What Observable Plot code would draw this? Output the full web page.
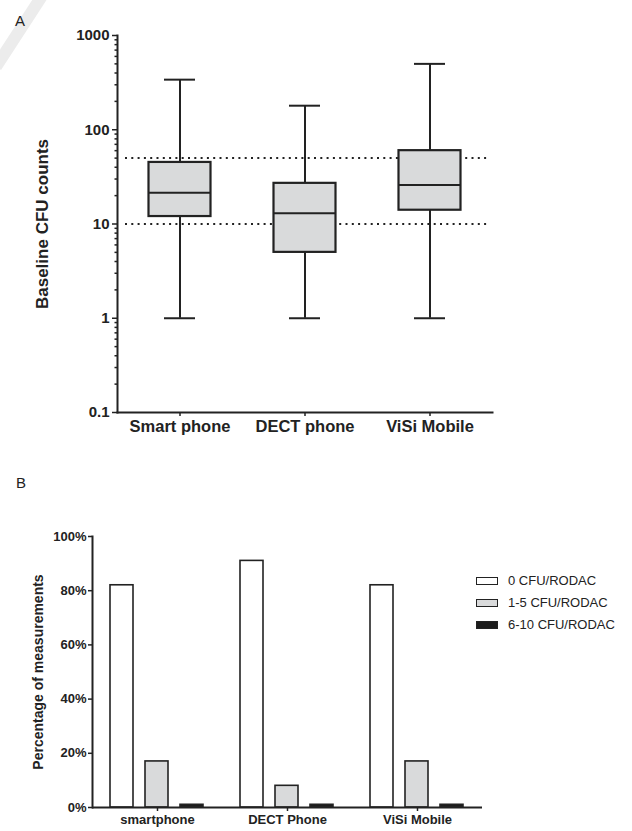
<!DOCTYPE html>
<html><head><meta charset="utf-8">
<script src="https://cdn.jsdelivr.net/npm/d3@7"></script>
<script src="https://cdn.jsdelivr.net/npm/@observablehq/plot@0.6"></script>
<style>
body{margin:0;width:632px;height:831px;position:relative;overflow:hidden;background:#fff;font-family:"Liberation Sans",Arial,sans-serif;color:#222;}
.abs{position:absolute;}
#wm{position:absolute;left:40px;top:-12px;width:12px;height:90px;background:#ececec;transform:rotate(33deg);transform-origin:top left;}
.lg{position:absolute;left:476px;display:flex;align-items:center;font-size:13px;}
.sw{width:20px;height:6px;border:1.2px solid #222;margin-right:10px;}
</style></head><body>
<div id="wm"></div>
<div class="abs" style="left:15px;top:12px;font-size:15px">A</div>
<div class="abs" style="left:16px;top:474px;font-size:15px">B</div>
<div id="plotA" class="abs" style="left:0;top:0"></div>
<div id="plotB" class="abs" style="left:0;top:500px"></div>
<div id="legend"></div>
<script>
// ---- Panel A data (box plot summary) ----
const devicesA = ["Smart phone", "DECT phone", "ViSi Mobile"];
const whiskerLow = [1, 1, 1];
const quartile1 = [12, 5, 14];
const medians = [21.5, 13, 26];
const quartile3 = [45, 27, 60];
const whiskerHigh = [340, 180, 500];
const thresholds = [10, 50];
const yTicksA = [0.1, 1, 10, 100, 1000];
const minorMultipliers = [2, 3, 4, 5, 6, 7, 8, 9];

// ---- Panel B data ----
const devicesB = ["smartphone", "DECT Phone", "ViSi Mobile"];
const seriesB = ["0 CFU/RODAC", "1-5 CFU/RODAC", "6-10 CFU/RODAC"];
const zeroCFU = [82, 91, 82];
const oneToFiveCFU = [17, 8, 17];
const sixToTenCFU = [1, 1, 1];
const yTicksB = [0, 20, 40, 60, 80, 100];
const colorsB = ["#ffffff", "#d9dadb", "#1c1c1c"];

const font = "Liberation Sans, Arial, sans-serif";
const ink = "#222";

const boxes = devicesA.map((d, i) => ({
  device: d, lo: whiskerLow[i], q1: quartile1[i], med: medians[i], q3: quartile3[i], hi: whiskerHigh[i]
}));
const minorTicks = yTicksA.slice(0, -1).flatMap(t => minorMultipliers.map(m => m * t));

const plotA = Plot.plot({
  width: 520, height: 450,
  marginTop: 35, marginBottom: 38, marginLeft: 117, marginRight: 28,
  style: {fontFamily: font, color: ink, background: "transparent", overflow: "visible"},
  x: {domain: devicesA, padding: 0, label: null, axis: null},
  y: {type: "log", domain: [0.1, 1000], label: null, axis: null},
  marks: [
    Plot.ruleY(thresholds, {stroke: ink, strokeWidth: 2, strokeDasharray: "2,4.3", insetLeft: 8, insetRight: 2}),
    Plot.ruleX(boxes, {x: "device", y1: "lo", y2: "q1", stroke: ink, strokeWidth: 2}),
    Plot.ruleX(boxes, {x: "device", y1: "q3", y2: "hi", stroke: ink, strokeWidth: 2}),
    Plot.tickY(boxes, {x: "device", y: "lo", stroke: ink, strokeWidth: 2, insetLeft: 47, insetRight: 47}),
    Plot.tickY(boxes, {x: "device", y: "hi", stroke: ink, strokeWidth: 2, insetLeft: 47, insetRight: 47}),
    Plot.barY(boxes, {x: "device", y1: "q1", y2: "q3", fill: "#d9dadb", stroke: ink, strokeWidth: 2.2, insetLeft: 31.5, insetRight: 31.5}),
    Plot.tickY(boxes, {x: "device", y: "med", stroke: ink, strokeWidth: 2, insetLeft: 31.5, insetRight: 31.5}),
    Plot.axisY({ticks: minorTicks, tickSize: 2.5, tickFormat: () => "", label: null, strokeWidth: 1.5}),
    Plot.axisY({ticks: yTicksA, tickSize: 5, tickPadding: 3, tickFormat: d => String(d), label: null,
      fontSize: 15, fontWeight: "bold", strokeWidth: 1.5}),
    Plot.axisX({tickSize: 4, tickPadding: 4, label: null, fontSize: 16.5, fontWeight: "bold", strokeWidth: 1.5}),
    Plot.frame({anchor: "left", stroke: ink, strokeWidth: 2}),
    Plot.frame({anchor: "bottom", stroke: ink, strokeWidth: 2}),
    Plot.text(["Baseline CFU counts"], {frameAnchor: "left", textAnchor: "middle", rotate: -90, dx: -75, fontSize: 17, fontWeight: "bold", fill: ink})
  ]
});
document.getElementById("plotA").append(plotA);

const valuesB = [zeroCFU, oneToFiveCFU, sixToTenCFU];
const rowsB = devicesB.flatMap((d, i) => seriesB.map((s, j) => ({device: d, series: s, value: valuesB[j][i]})));

const plotB = Plot.plot({
  width: 500, height: 331,
  marginTop: 36, marginBottom: 24, marginLeft: 91, marginRight: 18,
  style: {fontFamily: font, color: ink, background: "transparent", overflow: "visible"},
  fx: {domain: devicesB, padding: 0, label: null, axis: null},
  x: {domain: seriesB, paddingInner: 0.33, paddingOuter: 0.485, axis: null},
  y: {domain: [0, 100], label: null, axis: null},
  color: {domain: seriesB, range: colorsB},
  marks: [
    Plot.barY(rowsB, {fx: "device", x: "series", y: "value", fill: "series", stroke: ink, strokeWidth: 1.6}),
    Plot.ruleY([0], {stroke: ink, strokeWidth: 2}),
    Plot.axisFx({anchor: "bottom", tickSize: 4, tickPadding: 3, label: null, fontSize: 13, fontWeight: "bold", strokeWidth: 1.5}),
    Plot.axisY({ticks: yTicksB, tickSize: 4, tickPadding: 2, tickFormat: d => d + "%", label: null,
      fontSize: 13, fontWeight: "bold", strokeWidth: 1.5}),
    Plot.frame({anchor: "left", stroke: ink, strokeWidth: 2, facetAnchor: "left"}),
    Plot.text(["Percentage of measurements"], {frameAnchor: "left", textAnchor: "middle", rotate: -90, dx: -54, fontSize: 14, fontWeight: "bold", fill: ink, facetAnchor: "left"})
  ]
});
document.getElementById("plotB").append(plotB);

// legend
const legend = document.getElementById("legend");
const legendTops = [573, 595, 617];
seriesB.forEach((s, i) => {
  const row = document.createElement("div");
  row.className = "lg";
  row.style.top = legendTops[i] + "px";
  const sw = document.createElement("div");
  sw.className = "sw";
  sw.style.background = colorsB[i];
  const label = document.createElement("span");
  label.textContent = s;
  row.append(sw, label);
  legend.append(row);
});
</script>
</body></html>
